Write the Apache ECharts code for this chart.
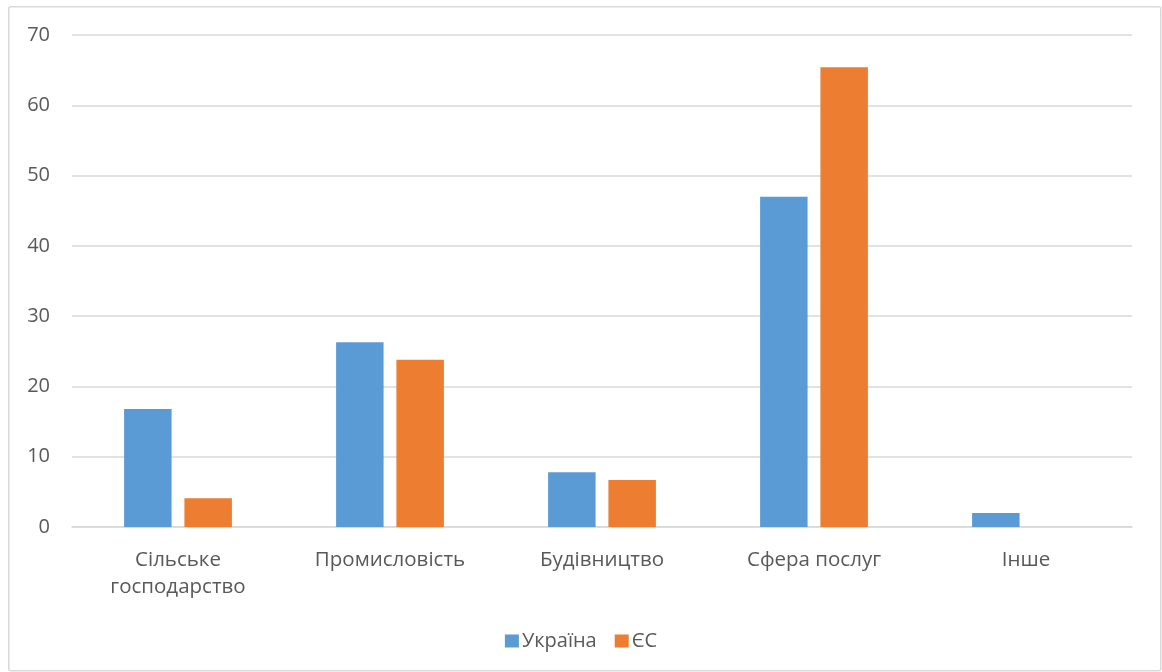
<!DOCTYPE html>
<html><head><meta charset="utf-8">
<script src="https://cdn.jsdelivr.net/npm/echarts@6/dist/echarts.min.js"></script>
<style>html,body{margin:0;padding:0;background:#fff}#c{width:1162px;height:672px}</style>
</head><body><div id="c"></div>
<script>
const categories = ['Сільське господарство', 'Промисловість', 'Будівництво', 'Сфера послуг', 'Інше'];
const ukraine = [16.8, 26.3, 7.8, 47.0, 2.0];
const eu = [4.1, 23.8, 6.7, 65.4, 0];
const seriesNames = ['Україна', 'ЄС'];
const yTicks = { min: 0, max: 70, interval: 10 };

const font = '"Open Sans", "Noto Sans", sans-serif';
const chart = echarts.init(document.getElementById('c'), null, { renderer: 'canvas' });
chart.setOption({
  animation: false,
  textStyle: { fontFamily: font },
  graphic: [{
    type: 'rect', left: 8, top: 6, z: -1, silent: true,
    shape: { width: 1152, height: 664, r: 2 },
    style: { fill: '#fff', stroke: '#d9d9d9', lineWidth: 1.5 }
  }],
  grid: { left: 72, right: 30, top: 35, bottom: 145, containLabel: false },
  legend: {
    bottom: 16, left: 'center',
    itemWidth: 14, itemHeight: 13, itemGap: 18,
    icon: 'rect',
    textStyle: { fontSize: 20, color: '#595959', fontFamily: font, padding: [0, 0, 0, -2] },
    data: seriesNames
  },
  xAxis: {
    type: 'category', data: categories,
    axisLine: { lineStyle: { color: '#d9d9d9', width: 1.5 } },
    axisTick: { show: false },
    axisLabel: {
      color: '#595959', fontSize: 20.5, margin: 20, lineHeight: 27, interval: 0,
      formatter: v => v.length > 15 ? v.replace(' ', '\n') : v
    }
  },
  yAxis: {
    type: 'value', min: yTicks.min, max: yTicks.max, interval: yTicks.interval,
    axisLine: { show: false }, axisTick: { show: false },
    axisLabel: { color: '#595959', fontSize: 20, margin: 22 },
    splitLine: { lineStyle: { color: '#d9d9d9', width: 1.5 } }
  },
  series: [
    { name: seriesNames[0], type: 'bar', data: ukraine, barWidth: '22.4%', barGap: '27%',
      itemStyle: { color: '#5B9BD5' } },
    { name: seriesNames[1], type: 'bar', data: eu, barWidth: '22.4%',
      itemStyle: { color: '#ED7D31' } }
  ]
});
</script></body></html>
